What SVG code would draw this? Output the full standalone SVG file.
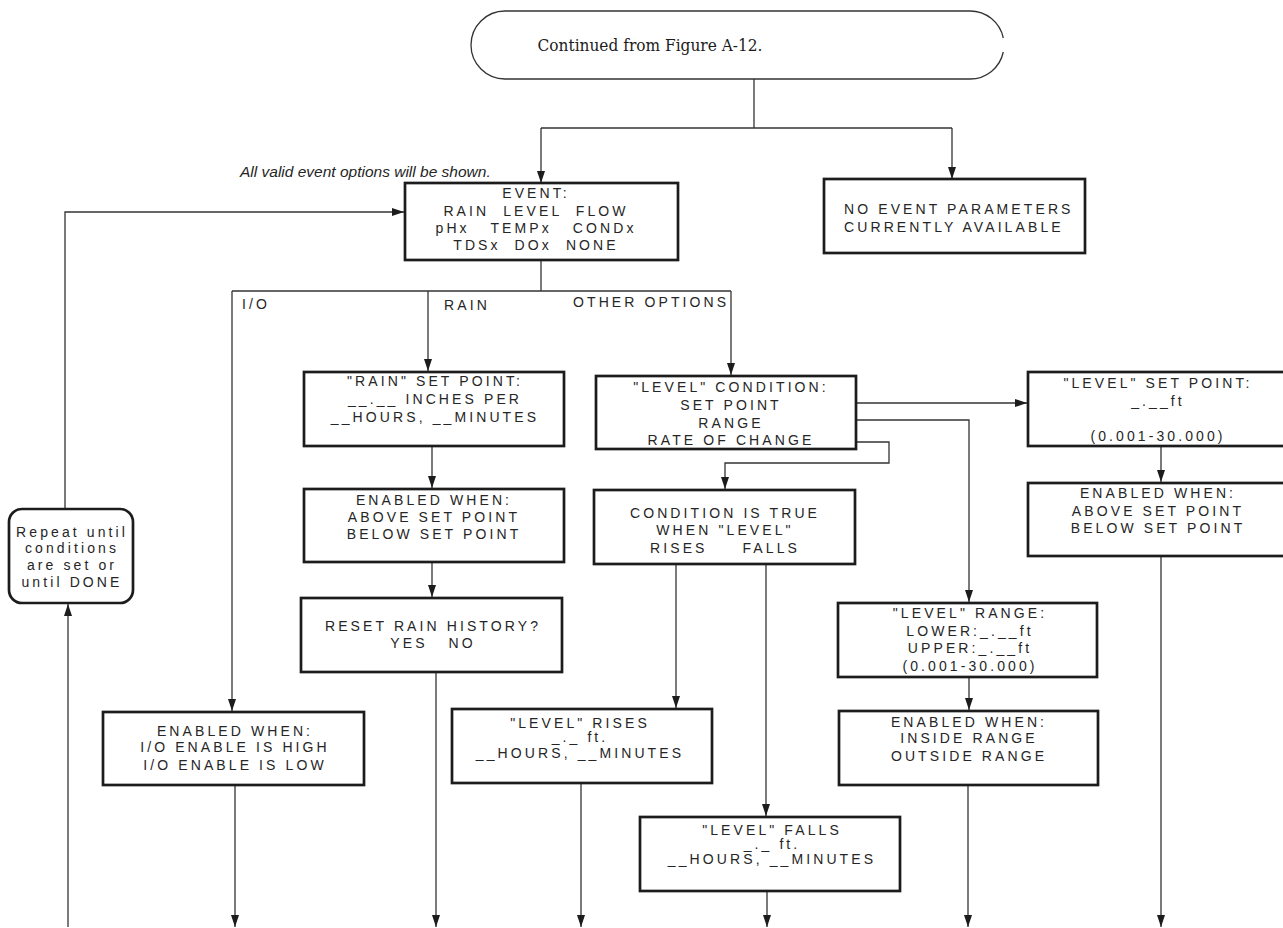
<svg xmlns="http://www.w3.org/2000/svg" width="1283" height="928" viewBox="0 0 1283 928">
<style>
.box{fill:#fff;stroke:#1c1c1c;stroke-width:2.7}
.term{fill:#fff;stroke:#333;stroke-width:1.3}
.t{font-family:"Liberation Sans",Arial,sans-serif;font-size:14px;letter-spacing:3.1px;fill:#262626;text-anchor:middle}
.l{font-family:"Liberation Sans",Arial,sans-serif;font-size:14px;letter-spacing:3.1px;fill:#262626;text-anchor:start}
.cap{font-family:"Liberation Sans",Arial,sans-serif;font-size:15.5px;font-style:italic;fill:#262626}
.serif{font-family:"DejaVu Serif","Liberation Serif",serif;font-size:17px;fill:#1c1c1c;text-anchor:middle}
.c{fill:none;stroke:#333;stroke-width:1.3}
.a{marker-end:url(#ah)}
</style>
<defs>
<marker id="ah" markerUnits="userSpaceOnUse" markerWidth="12" markerHeight="8" viewBox="0 0 12 8" refX="12" refY="4" orient="auto">
<path d="M0,0 L12,4 L0,8 z" fill="#1c1c1c"/>
</marker>
</defs>
<rect width="1283" height="928" fill="#fff"/>

<g id="connectors">
<path class="c" d="M754,79 V128"/>
<path class="c" d="M541,128 H952"/>
<path class="c a" d="M541,128 V183"/>
<path class="c a" d="M952,128 V179"/>
<path class="c" d="M541,260 V291"/>
<path class="c" d="M232,291 H731"/>
<path class="c a" d="M232,291 V711"/>
<path class="c a" d="M428,291 V371"/>
<path class="c a" d="M731,291 V375"/>
<path class="c a" d="M432,446 V488"/>
<path class="c a" d="M432,562 V597"/>
<path class="c a" d="M436,672 V927"/>
<path class="c a" d="M235,785 V927"/>
<path class="c a" d="M856,403 H1027"/>
<path class="c a" d="M856,420 H969 V602"/>
<path class="c a" d="M856,442 H889 V463 H725 V489"/>
<path class="c a" d="M676,564 V708"/>
<path class="c a" d="M766,564 V816"/>
<path class="c a" d="M581,783 V927"/>
<path class="c a" d="M767,891 V927"/>
<path class="c a" d="M969,677 V710"/>
<path class="c a" d="M968,785 V927"/>
<path class="c a" d="M1161,446 V482"/>
<path class="c a" d="M1161,556 V927"/>
<path class="c a" d="M65,509 V212 H404"/>
<path class="c a" d="M68,927 V604"/>
</g>

<g id="start">
<path class="term" d="M1003.3,38 A34 34 0 0 0 970,11 H505 A34 34 0 0 0 505,79 H970 A34 34 0 0 0 1003.3,52"/>
<text class="serif" x="650" y="51" textLength="225" lengthAdjust="spacingAndGlyphs">Continued from Figure A-12.</text>
</g>

<g id="caption">
<text class="cap" x="240" y="177">All valid event options will be shown.</text>
</g>

<g id="event">
<rect class="box" x="405" y="183" width="273" height="77"/>
<text class="t" x="536" y="198" xml:space="preserve">EVENT:</text>
<text class="t" x="536" y="215.5" xml:space="preserve">RAIN  LEVEL  FLOW</text>
<text class="t" x="536" y="233" xml:space="preserve">pHx   TEMPx   CONDx</text>
<text class="t" x="536" y="250" xml:space="preserve">TDSx  DOx  NONE</text>
</g>

<g id="no-event">
<rect class="box" x="824" y="179" width="261" height="74"/>
<text class="l" x="844" y="214">NO EVENT PARAMETERS</text>
<text class="l" x="844" y="232">CURRENTLY AVAILABLE</text>
</g>

<g id="branch-labels">
<text class="l" x="242" y="309">I/O</text>
<text class="l" x="444" y="310">RAIN</text>
<text class="l" x="573" y="307">OTHER OPTIONS</text>
</g>

<g id="rain-set-point">
<rect class="box" x="304" y="372" width="260" height="74"/>
<text class="t" x="435" y="386">"RAIN" SET POINT:</text>
<text class="t" x="435" y="404">__.__ INCHES PER</text>
<text class="t" x="435" y="422">__HOURS, __MINUTES</text>
</g>

<g id="rain-enabled">
<rect class="box" x="304" y="489" width="260" height="73"/>
<text class="t" x="434" y="505">ENABLED WHEN:</text>
<text class="t" x="434" y="522">ABOVE SET POINT</text>
<text class="t" x="434" y="539">BELOW SET POINT</text>
</g>

<g id="reset-rain">
<rect class="box" x="301" y="598" width="261" height="74"/>
<text class="t" x="433" y="631">RESET RAIN HISTORY?</text>
<text class="t" x="433" y="648" xml:space="preserve">YES   NO</text>
</g>

<g id="io-enabled">
<rect class="box" x="103" y="712" width="261" height="73"/>
<text class="t" x="235" y="736">ENABLED WHEN:</text>
<text class="t" x="235" y="752">I/O ENABLE IS HIGH</text>
<text class="t" x="235" y="770">I/O ENABLE IS LOW</text>
</g>

<g id="repeat">
<rect class="box" x="9" y="509" width="124" height="94" rx="13" ry="13"/>
<text class="t" x="72" y="537">Repeat until</text>
<text class="t" x="72" y="553">conditions</text>
<text class="t" x="72" y="570">are set or</text>
<text class="t" x="72" y="587">until DONE</text>
</g>

<g id="level-condition">
<rect class="box" x="596" y="376" width="260" height="73"/>
<text class="t" x="731" y="392">"LEVEL" CONDITION:</text>
<text class="t" x="731" y="410">SET POINT</text>
<text class="t" x="731" y="427.5">RANGE</text>
<text class="t" x="731" y="445">RATE OF CHANGE</text>
</g>

<g id="level-set-point">
<rect class="box" x="1028" y="372" width="262" height="74"/>
<text class="t" x="1158" y="388">"LEVEL" SET POINT:</text>
<text class="t" x="1158" y="406">_.__ft</text>
<text class="t" x="1158" y="441">(0.001-30.000)</text>
</g>

<g id="set-point-enabled">
<rect class="box" x="1028" y="483" width="262" height="73"/>
<text class="t" x="1158" y="498">ENABLED WHEN:</text>
<text class="t" x="1158" y="516">ABOVE SET POINT</text>
<text class="t" x="1158" y="533">BELOW SET POINT</text>
</g>

<g id="condition-true">
<rect class="box" x="594" y="490" width="261" height="74"/>
<text class="t" x="725" y="518">CONDITION IS TRUE</text>
<text class="t" x="725" y="535">WHEN "LEVEL"</text>
<text class="t" x="725" y="553" xml:space="preserve">RISES     FALLS</text>
</g>

<g id="level-range">
<rect class="box" x="838" y="603" width="259" height="74"/>
<text class="t" x="970" y="618">"LEVEL" RANGE:</text>
<text class="t" x="970" y="636">LOWER:_.__ft</text>
<text class="t" x="970" y="653">UPPER:_.__ft</text>
<text class="t" x="970" y="671">(0.001-30.000)</text>
</g>

<g id="range-enabled">
<rect class="box" x="839" y="711" width="259" height="74"/>
<text class="t" x="969" y="727">ENABLED WHEN:</text>
<text class="t" x="969" y="743">INSIDE RANGE</text>
<text class="t" x="969" y="761">OUTSIDE RANGE</text>
</g>

<g id="level-rises">
<rect class="box" x="452" y="709" width="260" height="74"/>
<text class="t" x="580" y="728">"LEVEL" RISES</text>
<text class="t" x="580" y="742">_._ ft.</text>
<text class="t" x="580" y="758">__HOURS, __MINUTES</text>
</g>

<g id="level-falls">
<rect class="box" x="640" y="817" width="260" height="74"/>
<text class="t" x="772" y="835">"LEVEL" FALLS</text>
<text class="t" x="772" y="849">_._ ft.</text>
<text class="t" x="772" y="864">__HOURS, __MINUTES</text>
</g>
</svg>
